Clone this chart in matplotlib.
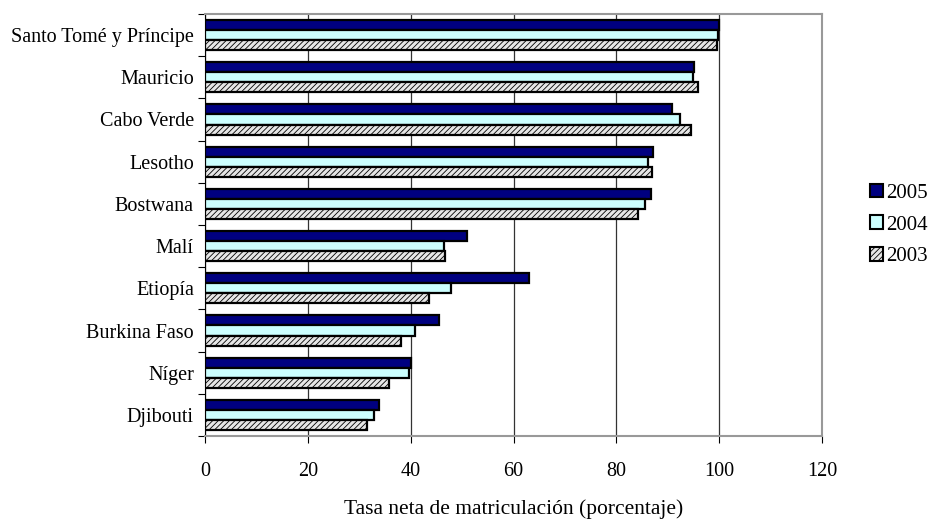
import numpy as np
import matplotlib.pyplot as plt
from matplotlib.patches import Patch

plt.rcParams['font.family'] = ['Liberation Serif', 'DejaVu Serif']
plt.rcParams['hatch.linewidth'] = 0.6
plt.rcParams['hatch.color'] = '#555555'

paises = ["Santo Tomé y Príncipe", "Mauricio", "Cabo Verde", "Lesotho", "Bostwana",
          "Malí", "Etiopía", "Burkina Faso", "Níger", "Djibouti"]
tasa_2005 = [100.0, 95.1, 90.9, 87.2, 86.7, 51.0, 63.1, 45.6, 40.0, 33.9]
tasa_2004 = [99.8, 95.0, 92.3, 86.2, 85.5, 46.4, 47.9, 40.8, 39.6, 32.8]
tasa_2003 = [99.5, 95.9, 94.6, 86.9, 84.2, 46.6, 43.5, 38.2, 35.8, 31.6]

fs = 14.5

fig = plt.figure(figsize=(9.33, 5.2), dpi=100)
ax = fig.add_axes([205/933, 1 - 436/520, (822-205)/933, (436-14)/520])

n = len(paises)
y = np.arange(n)[::-1]  # primer pais arriba
h = 0.24

ax.barh(y + h, tasa_2005, height=h, color='#000080', edgecolor='black', lw=1.6, zorder=3)
ax.barh(y, tasa_2004, height=h, color='#ccffff', edgecolor='black', lw=1.6, zorder=3)
ax.barh(y - h, tasa_2003, height=h, color='#e6e6e6', edgecolor='black', lw=1.6,
        hatch='//////', zorder=3)

ax.set_xlim(0, 120)
ax.set_ylim(-0.5, n - 0.5)
ax.set_xticks(np.arange(0, 121, 20))
ax.tick_params(axis='x', labelsize=fs, length=5, direction='out', pad=14)

# ticks del eje y entre categorias, etiquetas centradas
ax.set_yticks(np.arange(n + 1) - 0.5)
ax.set_yticklabels([])
ax.set_yticks(y, minor=True)
ax.set_yticklabels(paises, minor=True, fontsize=fs)
ax.tick_params(axis='y', which='major', length=5, direction='out')
ax.tick_params(axis='y', which='minor', length=0, pad=8)

ax.grid(axis='x', color='#333333', lw=0.9, zorder=0)
for s in ['top', 'right']:
    ax.spines[s].set_color('#999999')
    ax.spines[s].set_linewidth(1.5)
ax.spines['left'].set_color('black')
ax.spines['bottom'].set_color('#999999')
ax.spines['bottom'].set_linewidth(1.5)

ax.set_xlabel("Tasa neta de matriculación (porcentaje)", fontsize=15.5, labelpad=13)

handles = [Patch(facecolor='#000080', edgecolor='black', lw=1.5, label='2005'),
           Patch(facecolor='#ccffff', edgecolor='black', lw=1.5, label='2004'),
           Patch(facecolor='#e6e6e6', edgecolor='black', lw=1.5, hatch='//////', label='2003')]
fig.legend(handles=handles, loc='center left', bbox_to_anchor=(870/933, 1 - 225/520),
           frameon=False, fontsize=15, handlelength=0.62, handleheight=0.62,
           handletextpad=0.15, labelspacing=0.6, borderpad=0, borderaxespad=0)

fig.savefig("out.png", dpi=100)
